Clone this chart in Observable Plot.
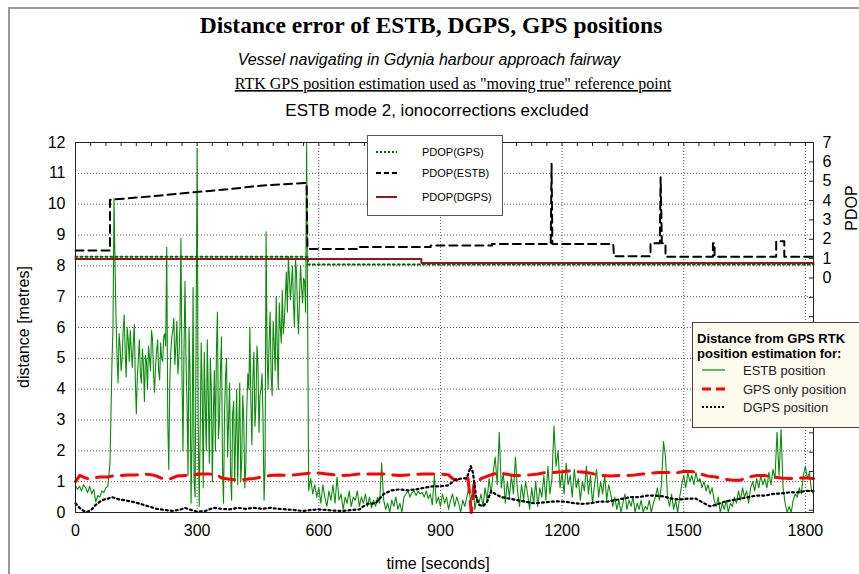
<!DOCTYPE html>
<html><head><meta charset="utf-8">
<script src="https://cdn.jsdelivr.net/npm/d3@7"></script>
<script src="https://cdn.jsdelivr.net/npm/@observablehq/plot@0.6"></script>
<style>
body{margin:0;background:#fff;}
#chart{width:859px;height:574px;overflow:hidden;position:relative;}
</style></head><body><div id="chart"></div>
<script>
// ---- Data ----
// ESTB distance error [m], one value every 5 s starting at t = 0
const estbStep = 5;
const estbValues = [
  /* 0   */ 0.88,0.75,0.85,0.7,0.9,0.8,0.65,0.85,0.6,0.75, 0.35,0.55,0.5,0.7,0.65,0.8,0.85,1.6,4.9,10.2,
  /* 100 */ 6.3,4.2,5.4,5.0,6.4,4.4,5.6,5.9,4.7,6.1, 3.2,5.0,4.5,5.3,3.6,4.9,5.4,4.6,5.6,3.9,
  /* 200 */ 5.2,4.6,5.5,4.9,5.8,8.6,1.4,5.2,5.9,4.8, 6.2,5.0,8.9,2.0,7.5,3.5,6.0,0.3,7.3,0.5,
  /* 300 */ 11.8,0.2,5.5,0.8,3.5,5.6,1.6,4.0,3.2,2.0, 6.5,3.0,5.7,0.3,4.4,1.8,4.2,0.4,3.6,2.5,
  /* 400 */ 0.9,4.2,1.7,3.0,1.5,4.5,6.0,2.2,5.2,3.5, 4.8,3.8,4.5,0.4,9.1,4.0,6.5,3.8,5.5,7.0,
  /* 500 */ 4.0,6.0,7.2,6.2,7.8,8.3,6.9,8.0,6.0,7.8, 5.8,8.0,6.8,7.5,12.0,0.7,1.1,0.6,0.9,0.5,
  /* 600 */ 0.8,0.3,0.9,0.5,0.2,0.7,0.4,0.9,0.3,1.15, 0.4,0.6,0.1,0.5,0.3,0.7,0.2,0.5,0.4,0.7,
  /* 700 */ 0.2,0.5,0.3,0.6,0.2,0.5,0.15,0.4,0.2,0.5, 0.3,1.6,0.4,0.1,0.3,0.0,0.4,0.2,0.5,0.1,
  /* 800 */ 0.3,0.0,0.5,0.6,0.7,0.5,0.65,0.7,0.55,0.7, 0.6,0.65,0.5,0.7,0.45,0.6,0.25,1.2,0.3,0.5,
  /* 900 */ 0.2,0.6,0.3,0.5,0.1,0.4,0.6,0.2,0.5,0.3, 0.0,0.4,0.2,0.5,0.8,0.3,0.9,0.1,0.5,0.3,
  /* 1000 */ 0.6,0.2,0.8,0.4,1.1,0.6,1.3,1.8,0.9,2.6, 0.8,1.3,0.3,1.0,0.5,1.2,0.6,1.8,0.7,0.2,
  /* 1100 */ 0.9,0.4,1.0,0.6,0.1,0.8,0.3,1.0,0.2,0.8, 0.5,1.2,0.4,1.5,0.6,1.1,2.8,1.5,2.0,0.8,
  /* 1200 */ 1.3,0.6,1.6,0.9,1.2,0.5,1.4,0.8,1.1,0.4, 1.0,0.7,1.5,0.6,1.2,0.3,0.9,1.4,0.5,1.0,
  /* 1300 */ 0.6,1.2,0.4,0.9,0.6,0.2,0.5,0.1,0.4,0.0, 0.3,0.6,0.1,0.4,0.2,0.5,0.0,0.3,0.1,0.4,
  /* 1400 */ 0.0,0.2,0.1,0.4,0.0,0.3,0.5,0.8,0.4,0.9, 2.3,1.8,0.5,0.2,0.6,0.1,0.4,0.0,0.5,0.9,
  /* 1500 */ 1.2,0.8,1.3,1.0,1.2,0.9,1.3,1.0,1.1,0.8, 1.0,0.7,0.9,0.6,0.8,0.4,0.2,0.5,0.0,0.3,
  /* 1600 */ 0.1,0.4,0.0,0.3,0.2,0.5,0.3,0.7,0.4,0.8, 0.5,0.7,0.3,0.8,1.0,0.7,1.1,0.8,1.2,0.9,
  /* 1700 */ 1.1,0.8,1.3,0.9,1.4,1.1,2.6,1.2,2.7,0.8, 0.3,0.0,0.2,0.0,0.4,0.6,0.5,0.8,0.6,1.2,
  /* 1800 */ 1.5,1.1,1.3,0.7,0.6
];
// Extra ESTB readings in the noisy stretch, every 5 s starting at t = 87.5
const estbMidStart = 87.5;
const estbMidValues = [
  3.2,6.0,8.0,5.0,5.8,4.6,5.9,5.2,6.0,4.9,
  5.3,5.5,4.3,4.4,5.6,4.2,4.8,5.1,4.0,5.0,
  5.9,4.5,4.8,5.6,4.3,5.0,5.7,5.4,3.0,4.2,
  5.7,6.3,5.4,4.5,6.0,4.6,5.2,5.0,1.2,4.5,
  2.5,1.0,6.0,3.0,2.6,4.0,5.2,2.0,3.8,5.0,
  1.0,4.6,5.2,2.4,4.6,1.5,3.2,5.0,3.0,1.2,
  3.2,1.0,4.0,2.6,1.0,3.8,0.8,3.4,4.0,3.6,
  4.4,2.8,5.4,2.6,4.0,3.0,1.5,5.2,5.6,4.4,
  6.2,4.6,5.4,6.8,5.5,5.8,7.0,6.5,7.6,7.4,
  6.8,8.2,6.6,7.0,7.3,7.6,6.5
];

// GPS-only distance error [m]
const gpsTime = [0,5,10,20,30,45,60,80,90,110,130,150,170,190,200,210,220,235,250,270,290,310,330,350,360,380,400,420,440,460,480,500,520,540,560,580,600,620,640,660,680,700,720,740,760,780,800,820,840,860,880,900,920,930,940,950,960,968,972,976,980,984,990,1000,1010,1020,1040,1060,1080,1100,1120,1140,1160,1180,1200,1220,1240,1260,1280,1300,1320,1340,1360,1380,1400,1420,1440,1460,1480,1500,1520,1540,1560,1580,1600,1620,1640,1660,1680,1700,1720,1740,1760,1780,1800,1820];
const gpsValues = [1.0,1.1,1.2,1.15,1.1,1.12,1.15,1.15,1.18,1.2,1.22,1.22,1.25,1.22,1.18,1.12,1.08,1.1,1.18,1.2,1.22,1.25,1.25,1.22,1.12,1.08,1.05,1.08,1.1,1.15,1.2,1.22,1.2,1.22,1.25,1.28,1.28,1.25,1.22,1.2,1.22,1.25,1.25,1.25,1.25,1.22,1.2,1.22,1.24,1.25,1.25,1.25,1.22,1.1,1.05,1.07,1.08,1.1,0.6,0.0,0.4,1.0,0.95,1.1,1.15,1.2,1.28,1.25,1.2,1.2,1.22,1.25,1.3,1.3,1.32,1.35,1.32,1.3,1.25,1.2,1.18,1.2,1.2,1.22,1.25,1.28,1.3,1.3,1.28,1.33,1.33,1.25,1.18,1.15,1.08,1.05,1.05,1.15,1.2,1.2,1.15,1.12,1.1,1.12,1.12,1.1];

// DGPS distance error [m]
const dgpsTime = [0,10,20,30,40,50,60,70,80,90,100,110,120,140,160,180,200,220,240,260,270,280,300,320,340,360,380,400,420,440,460,480,500,520,540,560,580,600,620,640,660,680,700,710,720,740,750,760,780,800,820,840,860,880,900,920,935,950,965,975,980,988,995,1005,1015,1025,1035,1050,1070,1090,1110,1130,1150,1170,1190,1210,1230,1250,1270,1290,1310,1330,1350,1370,1390,1410,1430,1450,1470,1490,1510,1530,1550,1565,1580,1600,1620,1640,1660,1680,1700,1720,1740,1760,1780,1800,1820];
const dgpsValues = [0.3,0.15,0.05,0.02,0.1,0.25,0.35,0.42,0.45,0.5,0.45,0.42,0.4,0.35,0.28,0.2,0.12,0.08,0.05,0.1,0.15,0.1,0.03,0.05,0.15,0.12,0.1,0.15,0.12,0.15,0.12,0.15,0.12,0.1,0.08,0.05,0.08,0.1,0.08,0.06,0.05,0.08,0.1,0.2,0.28,0.3,0.45,0.6,0.72,0.75,0.72,0.75,0.8,0.85,0.85,0.88,1.05,1.1,1.12,1.5,1.3,0.5,0.25,0.2,0.35,0.7,0.6,0.5,0.45,0.4,0.35,0.3,0.32,0.35,0.36,0.35,0.3,0.28,0.3,0.35,0.35,0.4,0.45,0.5,0.5,0.55,0.55,0.52,0.45,0.42,0.45,0.45,0.3,0.2,0.25,0.35,0.4,0.45,0.5,0.55,0.55,0.6,0.62,0.65,0.65,0.7,0.7];

// PDOP values (right axis)
const pdopGpsTime = [0,573,573,1820];
const pdopGpsValues = [1.1,1.1,0.7,0.7];
const pdopDgpsTime = [0,853,853,1820];
const pdopDgpsValues = [0.98,0.98,0.77,0.77];
const pdopEstbTime = [0,85,85,210,292,374,456,570,572,700,700,876,876,1027,1027,1172,1174,1176,1326,1328,1418,1418,1441,1443,1446,1455,1455,1572,1572,1576,1576,1728,1728,1748,1748,1820];
const pdopEstbValues = [1.42,1.42,4.04,4.26,4.43,4.58,4.77,4.91,1.5,1.5,1.6,1.6,1.68,1.68,1.76,1.76,5.9,1.76,1.76,1.12,1.12,1.8,1.8,5.2,1.8,1.8,1.1,1.1,1.8,1.8,1.1,1.1,1.9,1.9,1.1,1.1];

// Tick labels
const xTickValues = [0,300,600,900,1200,1500,1800];
const yTickValues = [0,1,2,3,4,5,6,7,8,9,10,11,12];
const pdopTickValues = [0,1,2,3,4,5,6,7];

// ---- Right-axis mapping: PDOP 0 sits at 7.606 m, PDOP 7 at 12 m ----
const pdopBase = 7.606, pdopScale = (12 - 7.606) / 7;
const toM = p => pdopBase + p * pdopScale;

const estb = estbValues.map((v, i) => ({t: i * estbStep, v}))
  .concat(estbMidValues.map((v, i) => ({t: estbMidStart + i * estbStep, v})))
  .sort((a, b) => a.t - b.t);
const gps = gpsTime.map((t, i) => ({t, v: gpsValues[i]}));
const dgps = dgpsTime.map((t, i) => ({t, v: dgpsValues[i]}));
const pGps = pdopGpsTime.map((t, i) => ({t, v: toM(pdopGpsValues[i])}));
const pDgps = pdopDgpsTime.map((t, i) => ({t, v: toM(pdopDgpsValues[i])}));
const pEstb = pdopEstbTime.map((t, i) => ({t, v: toM(pdopEstbValues[i])}));

const topTicks = d3.range(0, 1820, 37.5);
const rightTicks = d3.range(-12, 8).map(toM);

const chart = Plot.plot({
  width: 859, height: 574,
  marginLeft: 75, marginRight: 46, marginTop: 142, marginBottom: 62,
  style: {fontFamily: "'Liberation Sans', Arial, sans-serif", fontSize: "16px", color: "#000", background: "#fff", overflow: "visible"},
  x: {domain: [0, 1820]},
  y: {domain: [0, 12]},
  marks: [
    Plot.gridY(yTickValues.slice(1, -1), {stroke: "#555", strokeOpacity: 1, strokeDasharray: "1,2"}),
    Plot.gridX(xTickValues.slice(1), {stroke: "#555", strokeOpacity: 1, strokeDasharray: "1,2"}),
    Plot.tickX(topTicks, {x: d => d, stroke: "#222", insetBottom: 366}),
    Plot.tickY(rightTicks, {y: d => d, stroke: "#222", insetLeft: 734}),
    Plot.line(estb, {x: "t", y: "v", stroke: "#0b8a0b", strokeWidth: 1.1}),
    Plot.line(gps, {x: "t", y: "v", stroke: "#ff0000", strokeWidth: 3, strokeDasharray: "16,9"}),
    Plot.line(dgps, {x: "t", y: "v", stroke: "#000", strokeWidth: 2.2, strokeDasharray: "2,3"}),
    Plot.line(pGps, {x: "t", y: "v", stroke: "#006400", strokeWidth: 2, strokeDasharray: "2,3"}),
    Plot.line(pEstb, {x: "t", y: "v", stroke: "#000", strokeWidth: 2, strokeDasharray: "8,5"}),
    Plot.line(pDgps, {x: "t", y: "v", stroke: "#8b1a1a", strokeWidth: 2}),
    Plot.frame({stroke: "#222"}),
    Plot.axisY(yTickValues, {tickSize: 0, tickPadding: 10, label: null, fontSize: 16}),
    Plot.axisX(xTickValues, {tickSize: 0, tickPadding: 12, label: null, fontSize: 16, tickFormat: d => String(d)}),
    Plot.axisY(pdopTickValues.map(toM), {anchor: "right", tickSize: 0, tickPadding: 9, label: null, fontSize: 16,
      tickFormat: d => String(Math.round((d - pdopBase) / pdopScale))})
  ]
});
document.getElementById("chart").appendChild(chart);

const svg = d3.select(chart);
// outer border
svg.append("rect").attr("x", 9).attr("y", 8).attr("width", 900).attr("height", 600)
  .attr("fill", "none").attr("stroke", "#999").attr("stroke-width", 2);

const addText = (x, y, txt, attrs) => {
  const t = svg.append("text").attr("x", x).attr("y", y).attr("text-anchor", "middle").text(txt);
  for (const k in attrs) t.attr(k, attrs[k]);
  return t;
};
addText(431, 33, "Distance error of ESTB, DGPS, GPS positions", {"font-family": "'Liberation Serif', 'Times New Roman', serif", "font-weight": "bold", "font-size": 23.5});
addText(429, 65, "Vessel navigating in Gdynia harbour approach fairway", {"font-family": "'Liberation Sans', Arial, sans-serif", "font-style": "italic", "font-size": 16});
addText(453, 89, "RTK GPS position estimation used as \"moving true\" reference point", {"font-family": "'Liberation Serif', 'Times New Roman', serif", "font-size": 16, "text-decoration": "underline"});
addText(437, 116, "ESTB mode 2, ionocorrections excluded", {"font-family": "'Liberation Sans', Arial, sans-serif", "font-size": 17});

// axis titles
svg.append("text").attr("transform", "translate(29,327) rotate(-90)").attr("text-anchor", "middle")
  .attr("font-family", "'Liberation Sans', Arial, sans-serif").attr("font-size", 16).text("distance [metres]");
addText(438, 569, "time [seconds]", {"font-family": "'Liberation Sans', Arial, sans-serif", "font-size": 16});
svg.append("text").attr("transform", "translate(857,208) rotate(-90)").attr("text-anchor", "middle")
  .attr("font-family", "'Liberation Sans', Arial, sans-serif").attr("font-size", 16).text("PDOP");

// top legend (PDOP)
const lg1 = svg.append("g").attr("font-family", "'Liberation Sans', Arial, sans-serif").attr("font-size", 11).attr("text-anchor", "start");
lg1.append("rect").attr("x", 367.5).attr("y", 135.5).attr("width", 135).attr("height", 80).attr("fill", "#fff").attr("stroke", "#555");
const lg1Items = [
  {label: "PDOP(GPS)", stroke: "#006400", dash: "2,2", y: 152},
  {label: "PDOP(ESTB)", stroke: "#000", dash: "5,3", y: 173},
  {label: "PDOP(DGPS)", stroke: "#8b1a1a", dash: null, y: 197}
];
for (const it of lg1Items) {
  const l = lg1.append("line").attr("x1", 376).attr("x2", 397).attr("y1", it.y).attr("y2", it.y).attr("stroke", it.stroke).attr("stroke-width", 2);
  if (it.dash) l.attr("stroke-dasharray", it.dash);
  lg1.append("text").attr("x", 422).attr("y", it.y + 4).attr("text-anchor", "start").text(it.label);
}

// bottom-right legend
const lg2 = svg.append("g").attr("font-family", "'Liberation Sans', Arial, sans-serif").attr("font-size", 13).attr("text-anchor", "start");
lg2.append("rect").attr("x", 692.5).attr("y", 322.5).attr("width", 200).attr("height", 105).attr("fill", "#fdfbee").attr("stroke", "#444");
lg2.append("text").attr("x", 697).attr("y", 343).attr("font-weight", "bold").attr("text-anchor", "start").text("Distance from GPS RTK");
lg2.append("text").attr("x", 697).attr("y", 358).attr("font-weight", "bold").attr("text-anchor", "start").text("position estimation for:");
const lg2Items = [
  {label: "ESTB position", stroke: "#0b8a0b", w: 1.2, dash: null, y: 370},
  {label: "GPS only position", stroke: "#ff0000", w: 3, dash: "9,5", y: 389},
  {label: "DGPS position", stroke: "#000", w: 2, dash: "2,2", y: 407}
];
for (const it of lg2Items) {
  const l = lg2.append("line").attr("x1", 702).attr("x2", 725).attr("y1", it.y).attr("y2", it.y).attr("stroke", it.stroke).attr("stroke-width", it.w);
  if (it.dash) l.attr("stroke-dasharray", it.dash);
  lg2.append("text").attr("x", 743).attr("y", it.y + 4.5).attr("fill", "#222").attr("text-anchor", "start").text(it.label);
}
</script></body></html>
